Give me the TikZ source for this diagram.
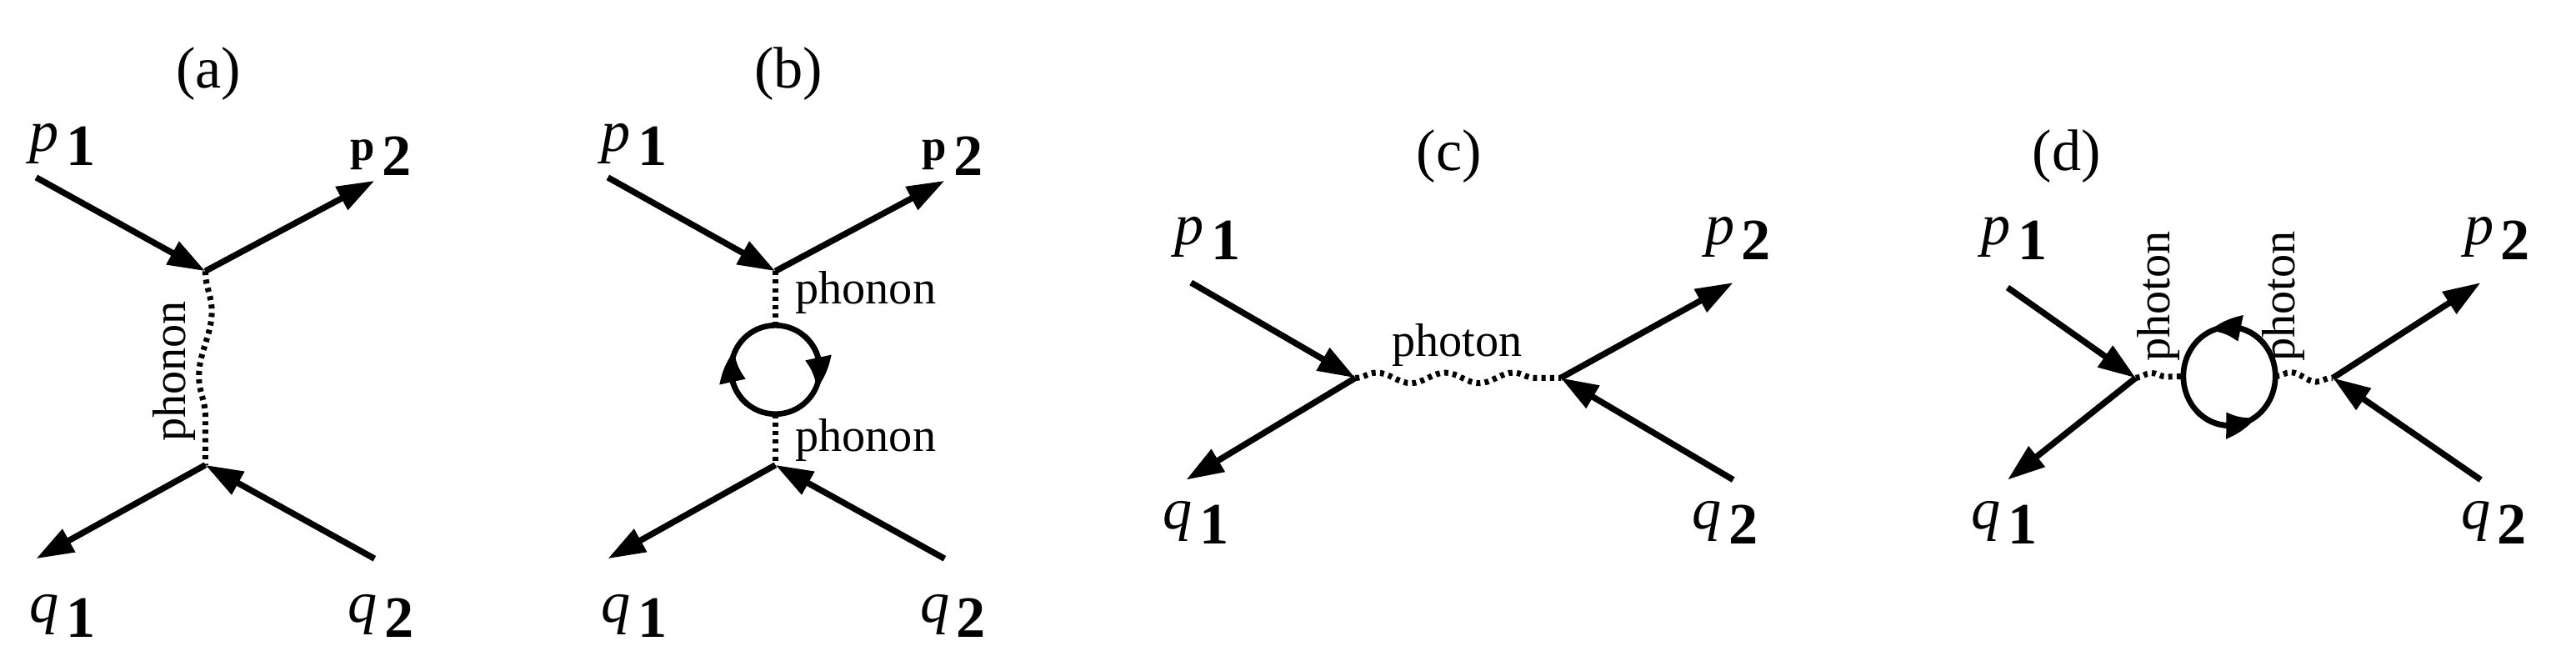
\documentclass[tikz,border=0pt]{standalone}
\usepackage{fontspec}
\setmainfont{Liberation Serif}
\usetikzlibrary{arrows.meta,decorations.pathmorphing,bending}
\newcommand{\lbl}[3]{{#1#2}\kern0.12em\raisebox{-0.55ex}{\bfseries #3}}
\begin{document}
\begin{tikzpicture}[x=0.01971cm,y=-0.01971cm,
  ln/.style={line width=2.1pt},
  tip/.style={-{Triangle[length=0.45cm,width=0.3cm]}},
  ltip/.style={line width=1.9pt,-{Triangle[length=0.38cm,width=0.3cm,bend]}},
  wav/.style={line width=2pt,dash pattern=on 1.4pt off 1.5pt,decorate,decoration={snake,amplitude=#1}},
  lab/.style={font=\fontsize{20}{22}\selectfont},
  ph/.style={font=\fontsize{16}{18}\selectfont,inner sep=1pt}]
\useasboundingbox (0,0) rectangle (1568,395.7);
% ---------- (a)
\node[lab] (ta) at (127,45) {(a)};
\coordinate (a1) at (125,165); \coordinate (a2) at (125,283);
\coordinate (ap1) at (22,108); \coordinate (ap2) at (228,110);
\coordinate (aq1) at (22,340); \coordinate (aq2) at (228,340);
\draw[ln,tip] (ap1) -- (a1);
\draw[ln,tip] (a1) -- (ap2);
\draw[ln,tip] (a2) -- (aq1);
\draw[ln,tip] (aq2) -- (a2);
\draw[wav=2.2pt,decoration={segment length=1.55cm}] (a1) -- (a2);
\node[ph,rotate=90] (pa) at (106,226) {phonon};
\node[lab] (lap1) at (38,88) {\lbl{\itshape}{p}{1}};
\node[lab] (lap2) at (232,95) {\lbl{\bfseries\fontsize{15}{16}\selectfont}{p}{2}};
\node[lab] (laq1) at (38,375) {\lbl{\itshape}{q}{1}};
\node[lab] (laq2) at (232,375) {\lbl{\itshape}{q}{2}};
% ---------- (b)
\node[lab] (tb) at (480,45) {(b)};
\coordinate (b1) at (472,165); \coordinate (b2) at (472,283);
\coordinate (bp1) at (370,108); \coordinate (bp2) at (575,110);
\coordinate (bq1) at (370,340); \coordinate (bq2) at (575,340);
\coordinate (bc) at (472,225);
\coordinate (bt) at (472,198); \coordinate (bb) at (472,252);
\draw[ln,tip] (bp1) -- (b1);
\draw[ln,tip] (b1) -- (bp2);
\draw[ln,tip] (b2) -- (bq1);
\draw[ln,tip] (bq2) -- (b2);
\draw[wav=1.5pt,decoration={segment length=1.3cm}] (b1) -- (bt);
\draw[wav=1.5pt,decoration={segment length=1.3cm}] (bb) -- (b2);
\draw[line width=1.9pt] (bc) circle (27);
\draw[ltip] ([shift={(130:27)}]bc) arc (130:205:27);
\draw[ltip] ([shift={(-50:27)}]bc) arc (-50:25:27);
\node[ph] (pb1) at (527,178) {phonon};
\node[ph] (pb2) at (527,268) {phonon};
\node[lab] (lbp1) at (386,88) {\lbl{\itshape}{p}{1}};
\node[lab] (lbp2) at (580,95) {\lbl{\bfseries\fontsize{15}{16}\selectfont}{p}{2}};
\node[lab] (lbq1) at (386,375) {\lbl{\itshape}{q}{1}};
\node[lab] (lbq2) at (580,375) {\lbl{\itshape}{q}{2}};
% ---------- (c)
\node[lab] (tc) at (882,95) {(c)};
\coordinate (c1) at (825,230); \coordinate (c2) at (950,230);
\coordinate (cp1) at (725,172); \coordinate (cp2) at (1055,172);
\coordinate (cq1) at (722,292); \coordinate (cq2) at (1055,292);
\draw[ln,tip] (cp1) -- (c1);
\draw[ln,tip] (c2) -- (cp2);
\draw[ln,tip] (c1) -- (cq1);
\draw[ln,tip] (cq2) -- (c2);
\draw[wav=1.8pt,decoration={segment length=0.82cm}] (c1) -- (c2);
\node[ph] (pc) at (887,210) {photon};
\node[lab] (lcp1) at (735,145) {\lbl{\itshape}{p}{1}};
\node[lab] (lcp2) at (1058,145) {\lbl{\itshape}{p}{2}};
\node[lab] (lcq1) at (728,318) {\lbl{\itshape}{q}{1}};
\node[lab] (lcq2) at (1050,318) {\lbl{\itshape}{q}{2}};
% ---------- (d)
\node[lab] (td) at (1258,95) {(d)};
\coordinate (d1) at (1300,230); \coordinate (d2) at (1420,230);
\coordinate (dp1) at (1222,175); \coordinate (dp2) at (1510,172);
\coordinate (dq1) at (1222,292); \coordinate (dq2) at (1510,292);
\coordinate (dc) at (1357,229);
\coordinate (dl) at (1329,229); \coordinate (dr) at (1385,229);
\draw[ln,tip] (dp1) -- (d1);
\draw[ln,tip] (d2) -- (dp2);
\draw[ln,tip] (d1) -- (dq1);
\draw[ln,tip] (dq2) -- (d2);
\draw[wav=1.5pt,decoration={segment length=0.6cm}] (d1) -- (dl);
\draw[wav=1.5pt,decoration={segment length=0.6cm}] (dr) -- (d2);
\draw[line width=1.9pt] (dc) ellipse (28 and 30);
\draw[ltip] ([shift={(135:28 and 30)}]dc) arc[start angle=135,end angle=55,x radius=28,y radius=30];
\draw[ltip] ([shift={(-40:28 and 30)}]dc) arc[start angle=-40,end angle=-115,x radius=28,y radius=30];
\node[ph,rotate=90,anchor=west] (pd1) at (1314,222) {photon};
\node[ph,rotate=90,anchor=west] (pd2) at (1390,222) {photon};
\node[lab] (ldp1) at (1226,145) {\lbl{\itshape}{p}{1}};
\node[lab] (ldp2) at (1520,145) {\lbl{\itshape}{p}{2}};
\node[lab] (ldq1) at (1220,318) {\lbl{\itshape}{q}{1}};
\node[lab] (ldq2) at (1518,318) {\lbl{\itshape}{q}{2}};
\end{tikzpicture}
\end{document}
